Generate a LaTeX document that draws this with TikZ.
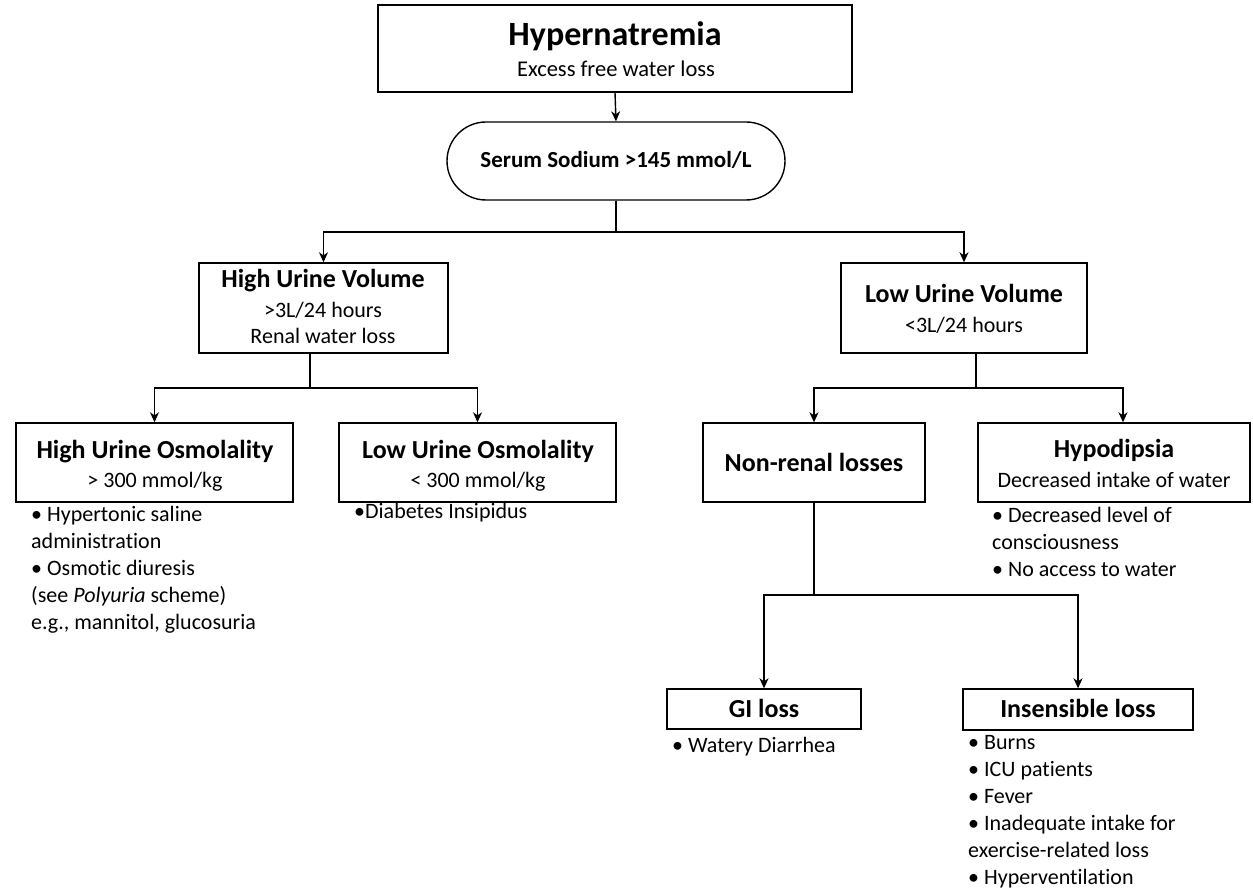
\documentclass[tikz,border=0pt]{standalone}
\usepackage{fontspec}
\setmainfont{Carlito}[Ligatures=NoCommon]
\usetikzlibrary{arrows.meta}
\begin{document}
\begin{tikzpicture}[x=1pt,y=-1pt,
  box/.style={draw, line width=1.4pt, inner sep=0pt},
  ttl/.style={font=\fontsize{26}{30}\selectfont\bfseries, anchor=base, inner sep=0pt},
  sub/.style={font=\fontsize{22}{26}\selectfont, anchor=base, inner sep=0pt},
  items/.style={font=\fontsize{22}{27}\selectfont, anchor=base west, inner sep=0pt},
  conn/.style={line width=1.4pt},
  arr/.style={conn, -{Stealth[length=10pt,width=9pt,inset=3pt]}}]
\useasboundingbox (0,0) rectangle (1253,893);
% boxes
\node[box, minimum width=474pt, minimum height=87pt] (top) at (615,48.5) {};
\node[box, rounded corners=39pt, minimum width=338pt, minimum height=78pt] (serum) at (616,161) {};
\node[box, minimum width=249pt, minimum height=90pt] (huv) at (323.5,308) {};
\node[box, minimum width=246pt, minimum height=90pt] (luv) at (964,308) {};
\node[box, minimum width=277pt, minimum height=79pt] (huo) at (154.5,462.5) {};
\node[box, minimum width=277pt, minimum height=79pt] (luo) at (477.5,462.5) {};
\node[box, minimum width=222pt, minimum height=79pt] (nr) at (814,462.5) {};
\node[box, minimum width=272pt, minimum height=79pt] (hyp) at (1114,462.5) {};
\node[box, minimum width=194pt, minimum height=40pt] (gi) at (764,709) {};
\node[box, minimum width=230pt, minimum height=41pt] (ins) at (1078,709.5) {};
% texts in boxes
\node[ttl, font=\fontsize{34}{38}\selectfont\bfseries] (topT) at (615,46) {Hypernatremia};
\node[sub, font=\fontsize{22.5}{26}\selectfont] (topS) at (616,77) {Excess free water loss};
\node[ttl, font=\fontsize{23}{27}\selectfont\bfseries] (serumT) at (616,168) {Serum Sodium >145 mmol/L};
\node[ttl] (huvT) at (323,288) {High Urine Volume};
\node[sub] (huvS1) at (323,318) {>3L/24 hours};
\node[sub] (huvS2) at (323,344) {Renal water loss};
\node[ttl] (luvT) at (964,303) {Low Urine Volume};
\node[sub] (luvS) at (964,332) {<3L/24 hours};
\node[ttl] (huoT) at (155,458) {High Urine Osmolality};
\node[sub] (huoS) at (155,487) {> 300 mmol/kg};
\node[ttl] (luoT) at (478,458) {Low Urine Osmolality};
\node[sub] (luoS) at (478,487) {< 300 mmol/kg};
\node[ttl] (nrT) at (814,471) {Non-renal losses};
\node[ttl] (hypT) at (1114,457) {Hypodipsia};
\node[sub] (hypS) at (1114,487) {Decreased intake of water};
\node[ttl] (giT) at (764,717) {GI loss};
\node[ttl] (insT) at (1078,717) {Insensible loss};
% lists
\node[items] (huoL) at (31,521) {\begin{tabular}[t]{@{}l@{}}• Hypertonic saline\\ administration\\ • Osmotic diuresis\\ (see \textit{Polyuria} scheme)\\ e.g., mannitol, glucosuria\end{tabular}};
\node[items] (luoL) at (354,518) {•Diabetes Insipidus};
\node[items] (hypL) at (992,522) {\begin{tabular}[t]{@{}l@{}}• Decreased level of\\ consciousness\\ • No access to water\end{tabular}};
\node[items] (giL) at (672,752) {• Watery Diarrhea};
\node[items] (insL) at (968,749) {\begin{tabular}[t]{@{}l@{}}• Burns\\ • ICU patients\\ • Fever\\ • Inadequate intake for\\ exercise-related loss\\ • Hyperventilation\end{tabular}};
% connectors
\coordinate (j0) at (615,232);
\coordinate (b1) at (310,388);
\coordinate (b2) at (976,388);
\coordinate (b3) at (814,595);
\draw[arr] (top.south) -- (serum.north);
\draw[conn] (serum.south) -- (serum.south |- j0);
\draw[arr] (serum.south |- j0) -| (huv.north);
\draw[arr] (serum.south |- j0) -| (luv.north);
\draw[conn] (huv.south -| b1) -- (b1);
\draw[arr] (b1) -| (huo.north);
\draw[arr] (b1) -| (luo.north);
\draw[conn] (luv.south -| b2) -- (b2);
\draw[arr] (b2) -| (nr.north);
\draw[arr] (b2) -| ([xshift=9pt]hyp.north);
\draw[conn] (nr.south) -- (b3);
\draw[arr] (b3) -| (gi.north);
\draw[arr] (b3) -| (ins.north);
\end{tikzpicture}
\end{document}
